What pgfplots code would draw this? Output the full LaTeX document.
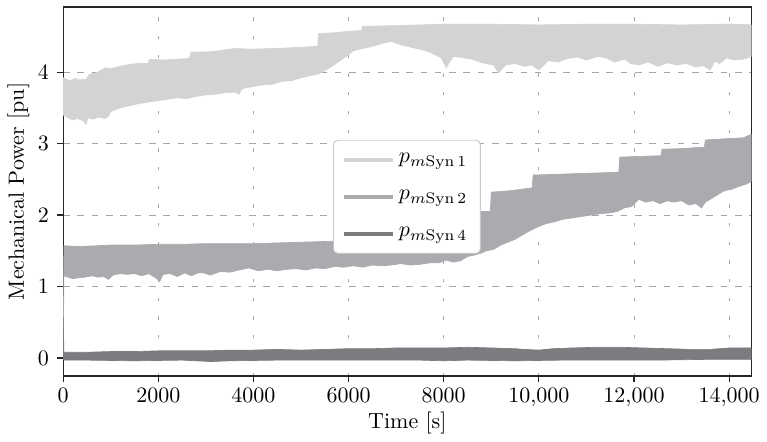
\documentclass[border=0pt]{standalone}
\usepackage{pgfplots}
\pgfplotsset{compat=1.18}
\definecolor{synA}{RGB}{211,211,211}
\definecolor{synB}{RGB}{171,171,175}
\definecolor{synD}{RGB}{124,124,128}
\begin{document}
\begin{tikzpicture}
\begin{axis}[
  scale only axis,
  width=313pt, height=167.7pt,
  xmin=0, xmax=14470, ymin=-0.25, ymax=4.91,
  xtick={0,2000,4000,6000,8000,10000,12000,14000},
  xticklabels={0,2000,4000,6000,8000,{10,000},{12,000},{14,000}},
  ytick={0,1,2,3,4},
  scaled x ticks=false,
  tick align=outside, xtick pos=bottom, ytick pos=left,
  major tick length=3pt,
  tick style={black!85, line width=0.5pt},
  axis line style={black!85, line width=0.6pt},
  xmajorgrids, ymajorgrids,
  x grid style={gray!70, dash pattern=on 1.5pt off 7pt, line width=0.4pt},
  y grid style={gray!70, dash pattern=on 3pt off 3.5pt, line width=0.4pt},
  xticklabel style={yshift=1pt},
  xlabel={Time [s]}, ylabel={Mechanical Power [pu]},
  xlabel style={yshift=4.5pt}, ylabel style={yshift=-3pt},
  legend cell align=left,
  legend style={at={(0.392,0.64)}, anchor=north west, draw=black!22, rounded corners=2pt, fill=white, row sep=7pt, inner xsep=4pt, inner ysep=4pt},
  legend image code/.code={\draw[#1, line width=1.8pt] (0pt,0pt) -- (22pt,0pt);},
]
\addplot[fill=synA, draw=synA, line width=0.3pt, forget plot] coordinates {
(0,3.92)(60,3.9)(150,3.88)(250,3.91)(350,3.89)(480,3.9)(560,3.97)(700,3.99)(880,4.06)(1000,4.05)(1200,4.08)(1400,4.11)(1600,4.12)(1790,4.12)(1810,4.18)(2100,4.17)(2400,4.18)(2650,4.19)(2690,4.28)(3000,4.28)(3300,4.3)(3600,4.33)(4000,4.32)(4400,4.33)(4800,4.34)(5350,4.36)(5370,4.54)(5700,4.55)(6000,4.57)(6270,4.58)(6290,4.64)(7000,4.65)(7500,4.66)(8000,4.67)(9000,4.67)(10000,4.66)(11000,4.67)(12000,4.67)(13000,4.66)(14000,4.67)(14470,4.66)
(14470,4.22)(14300,4.18)(14100,4.17)(13950,4.2)(13800,4.12)(13700,4.15)(13600,4.03)(13450,4.09)(13300,4.07)(13100,4.12)(12900,4.1)(12700,4.13)(12500,4.08)(12300,4.14)(12100,4.1)(11930,4.12)(11800,4.18)(11600,4.14)(11400,4.2)(11240,4.22)(11000,4.17)(10800,4.21)(10600,4.19)(10400,4.14)(10200,4.16)(10000,4.03)(9850,4.1)(9700,4.08)(9500,4.12)(9300,4.1)(9150,3.99)(9050,4.1)(8800,4.13)(8600,4.18)(8400,4.2)(8200,4.22)(8050,4.06)(7950,4.2)(7700,4.28)(7500,4.32)(7300,4.35)(7100,4.38)(6900,4.43)(6700,4.4)(6500,4.36)(6300,4.33)(6100,4.3)(5950,4.22)(5800,4.15)(5650,4.08)(5500,4.02)(5350,3.97)(5200,3.95)(5000,3.92)(4800,3.88)(4600,3.87)(4400,3.83)(4200,3.82)(4000,3.8)(3850,3.78)(3750,3.76)(3700,3.69)(3600,3.72)(3400,3.71)(3200,3.69)(3000,3.68)(2800,3.66)(2600,3.63)(2400,3.64)(2200,3.62)(2000,3.6)(1800,3.58)(1600,3.56)(1400,3.53)(1200,3.5)(1000,3.45)(950,3.38)(880,3.35)(750,3.37)(620,3.34)(520,3.36)(480,3.27)(420,3.32)(300,3.35)(200,3.33)(100,3.36)(0,3.4)
} -- cycle;
\addplot[fill=synB, draw=synB, line width=0.3pt, forget plot] coordinates {
(0,0)(15,1.57)(300,1.56)(700,1.57)(1000,1.58)(1500,1.58)(2000,1.59)(2500,1.59)(3000,1.6)(3500,1.6)(4000,1.6)(4500,1.61)(5000,1.62)(5500,1.63)(6000,1.64)(6500,1.67)(7000,1.7)(7500,1.76)(8000,1.85)(8400,1.95)(8740,2.0)(8760,2.05)(8980,2.05)(9000,2.32)(9400,2.34)(9860,2.38)(9880,2.56)(10400,2.57)(10800,2.58)(11300,2.59)(11680,2.6)(11700,2.81)(12100,2.82)(12570,2.83)(12590,2.92)(13000,2.93)(13480,2.95)(13500,3.05)(14000,3.07)(14300,3.08)(14470,3.13)
(14470,2.47)(14350,2.43)(14200,2.4)(14050,2.36)(13900,2.34)(13800,2.3)(13700,2.26)(13600,2.22)(13500,2.18)(13420,2.1)(13300,2.16)(13150,2.14)(13000,2.2)(12850,2.18)(12700,2.2)(12550,2.16)(12400,2.2)(12250,2.18)(12100,2.22)(11950,2.12)(11800,2.1)(11650,2.05)(11500,2.03)(11300,2.02)(11100,2.0)(10900,1.98)(10700,1.96)(10500,1.94)(10300,1.9)(10150,1.88)(10000,1.84)(9870,1.8)(9700,1.74)(9500,1.66)(9350,1.62)(9200,1.58)(9050,1.52)(8900,1.5)(8800,1.47)(8650,1.44)(8500,1.42)(8350,1.36)(8200,1.34)(8050,1.37)(7900,1.33)(7700,1.33)(7500,1.31)(7300,1.3)(7100,1.32)(6900,1.3)(6700,1.29)(6500,1.3)(6300,1.27)(6100,1.29)(5900,1.27)(5700,1.28)(5500,1.25)(5300,1.26)(5100,1.23)(4900,1.25)(4700,1.24)(4500,1.22)(4300,1.24)(4100,1.22)(3900,1.26)(3700,1.23)(3500,1.2)(3300,1.21)(3100,1.16)(2950,1.19)(2830,1.19)(2700,1.15)(2550,1.19)(2400,1.14)(2250,1.18)(2100,1.17)(2030,1.07)(1950,1.12)(1800,1.18)(1650,1.15)(1500,1.18)(1350,1.17)(1200,1.18)(1050,1.16)(950,1.1)(850,1.14)(735,1.13)(600,1.15)(450,1.13)(300,1.12)(200,1.11)(100,1.13)(15,1.15)(0,0)
} -- cycle;
\addplot[fill=synD, draw=synD, line width=0.3pt, forget plot] coordinates {
(0,0.57)(15,0.08)(500,0.08)(1000,0.09)(1500,0.09)(2000,0.1)(2500,0.1)(3000,0.1)(3500,0.11)(4000,0.11)(4500,0.12)(5000,0.11)(5500,0.12)(6000,0.13)(6500,0.13)(7000,0.14)(7500,0.14)(8000,0.14)(8500,0.15)(9000,0.14)(9500,0.13)(9700,0.12)(10000,0.11)(10300,0.13)(10700,0.14)(11200,0.15)(11700,0.15)(12200,0.14)(12700,0.13)(13200,0.12)(13600,0.12)(14000,0.14)(14470,0.14)
(14470,-0.02)(13500,-0.02)(12500,-0.03)(11500,-0.03)(10500,-0.03)(9500,-0.04)(8500,-0.03)(8000,-0.04)(7500,-0.03)(6500,-0.03)(5500,-0.03)(4500,-0.03)(3500,-0.04)(3100,-0.05)(2500,-0.03)(1500,-0.04)(500,-0.03)(15,-0.03)(0,0)
} -- cycle;
\addlegendimage{synA}
\addlegendentry{$p_{m\mathrm{Syn}\,1}$}
\addlegendimage{synB}
\addlegendentry{$p_{m\mathrm{Syn}\,2}$}
\addlegendimage{synD}
\addlegendentry{$p_{m\mathrm{Syn}\,4}$}
\end{axis}
\path ([yshift=3.2pt]current axis.north);
\end{tikzpicture}
\end{document}
